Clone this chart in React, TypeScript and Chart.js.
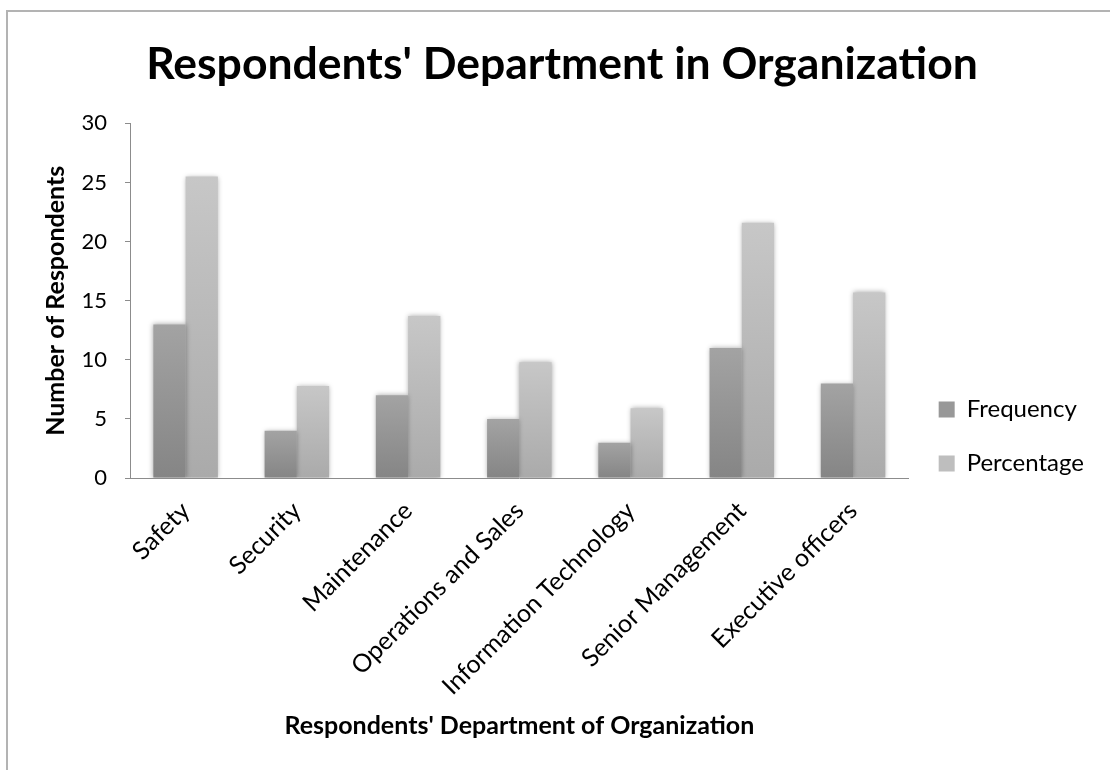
import React, { useEffect, useRef } from "react";
import { Chart, registerables } from "chart.js";

Chart.register(...registerables);

const categories = [
  "Safety",
  "Security",
  "Maintenance",
  "Operations and Sales",
  "Information Technology",
  "Senior Management",
  "Executive officers",
];
const frequency = [13, 4, 7, 5, 3, 11, 8];
const percentage = [25.5, 7.8, 13.7, 9.8, 5.9, 21.6, 15.7];
const yTicks = [0, 5, 10, 15, 20, 25, 30];

const FONT = "Lato, 'Noto Sans', sans-serif";

function gradientFill(top: string, bottom: string) {
  return (ctx: any) => {
    if (ctx.type !== "data") return top;
    const chart = ctx.chart;
    const y = chart.scales && chart.scales.y;
    if (!chart.chartArea || !y) return top;
    const v = ctx.raw as number;
    const pTop = y.getPixelForValue(v);
    const pBottom = y.getPixelForValue(0);
    if (!isFinite(pTop) || !isFinite(pBottom) || pTop === pBottom) return top;
    const g = chart.ctx.createLinearGradient(0, pTop, 0, pBottom);
    g.addColorStop(0, top);
    g.addColorStop(1, bottom);
    return g;
  };
}

const shadowPlugin = {
  id: "barShadow",
  beforeDatasetsDraw(chart: any) {
    const c = chart.ctx;
    c.save();
    c.shadowColor = "rgba(0,0,0,0.35)";
    c.shadowBlur = 5;
    c.shadowOffsetX = 0;
    c.shadowOffsetY = 0;
  },
  afterDatasetsDraw(chart: any) {
    chart.ctx.restore();
  },
};

export default function App() {
  const ref = useRef<HTMLCanvasElement | null>(null);

  useEffect(() => {
    if (!ref.current) return;
    const chart = new Chart(ref.current, {
      type: "bar",
      data: {
        labels: categories,
        datasets: [
          {
            label: "Frequency",
            data: frequency,
            backgroundColor: gradientFill("#a3a3a3", "#858585"),
            borderWidth: 0,
            categoryPercentage: 0.58,
            barPercentage: 1.0,
          },
          {
            label: "Percentage",
            data: percentage,
            backgroundColor: gradientFill("#c7c7c7", "#aaaaaa"),
            borderWidth: 0,
            categoryPercentage: 0.58,
            barPercentage: 1.0,
          },
        ],
      },
      options: {
        responsive: false,
        animation: false,
        layout: { padding: { left: 30, right: 16, top: 0, bottom: 29 } },
        plugins: {
          title: {
            display: true,
            text: "Respondents' Department in Organization",
            color: "#000",
            font: { family: FONT, size: 44.5, weight: "bold" },
            padding: { top: 38, bottom: 32 },
          },
          legend: {
            position: "right",
            title: {
              display: true,
              text: " ",
              font: { family: FONT, size: 10 },
              padding: { top: 120, bottom: 0 },
            },
            labels: {
              color: "#000",
              font: { family: FONT, size: 24 },
              boxWidth: 16,
              boxHeight: 16,
              padding: 30,
              generateLabels: () => [
                { text: "Frequency", fillStyle: "#989898", strokeStyle: "#989898", fontColor: "#000", lineWidth: 0, datasetIndex: 0, hidden: false },
                { text: "Percentage", fillStyle: "#bebebe", strokeStyle: "#bebebe", fontColor: "#000", lineWidth: 0, datasetIndex: 1, hidden: false },
              ] as any,
            },
          },
          tooltip: { enabled: false },
        },
        scales: {
          x: {
            grid: { display: false },
            border: { display: true, color: "#8c8c8c", width: 1 },
            ticks: {
              color: "#000",
              font: { family: FONT, size: 25 },
              minRotation: 45,
              maxRotation: 45,
              autoSkip: false,
              padding: 10,
            },
            title: {
              display: true,
              text: "Respondents' Department of Organization",
              color: "#000",
              font: { family: FONT, size: 25, weight: "bold" },
              padding: { top: 0, bottom: 0 },
            },
          },
          y: {
            min: 0,
            max: 30,
            afterBuildTicks: (scale: any) => {
              scale.ticks = yTicks.map((v) => ({ value: v }));
            },
            afterFit: (scale: any) => {
              scale.width = 100;
            },
            grid: {
              display: true,
              drawOnChartArea: false,
              drawTicks: true,
              tickLength: 5,
              color: "#8c8c8c",
            },
            border: { display: true, color: "#8c8c8c", width: 1 },
            ticks: {
              color: "#000",
              font: { family: FONT, size: 22 },
              padding: 18,
            },
            title: {
              display: true,
              text: "Number of Respondents",
              color: "#000",
              font: { family: FONT, size: 25, weight: "bold" },
              padding: { top: 11, bottom: 11 },
            },
          },
        },
      },
      plugins: [shadowPlugin],
    });
    return () => chart.destroy();
  }, []);

  return (
    <div
      style={{
        position: "absolute",
        left: 0,
        top: 0,
        width: 1110,
        height: 770,
        overflow: "hidden",
        background: "#fff",
      }}
    >
      <div
        style={{
          position: "absolute",
          left: 6,
          top: 10,
          width: 1200,
          height: 900,
          borderTop: "2px solid #b3b3b3",
          borderLeft: "2px solid #b3b3b3",
          boxSizing: "border-box",
        }}
      />
      <canvas
        ref={ref}
        width={1110}
        height={770}
        style={{ position: "absolute", left: 0, top: 0, width: 1110, height: 770 }}
      />
    </div>
  );
}
